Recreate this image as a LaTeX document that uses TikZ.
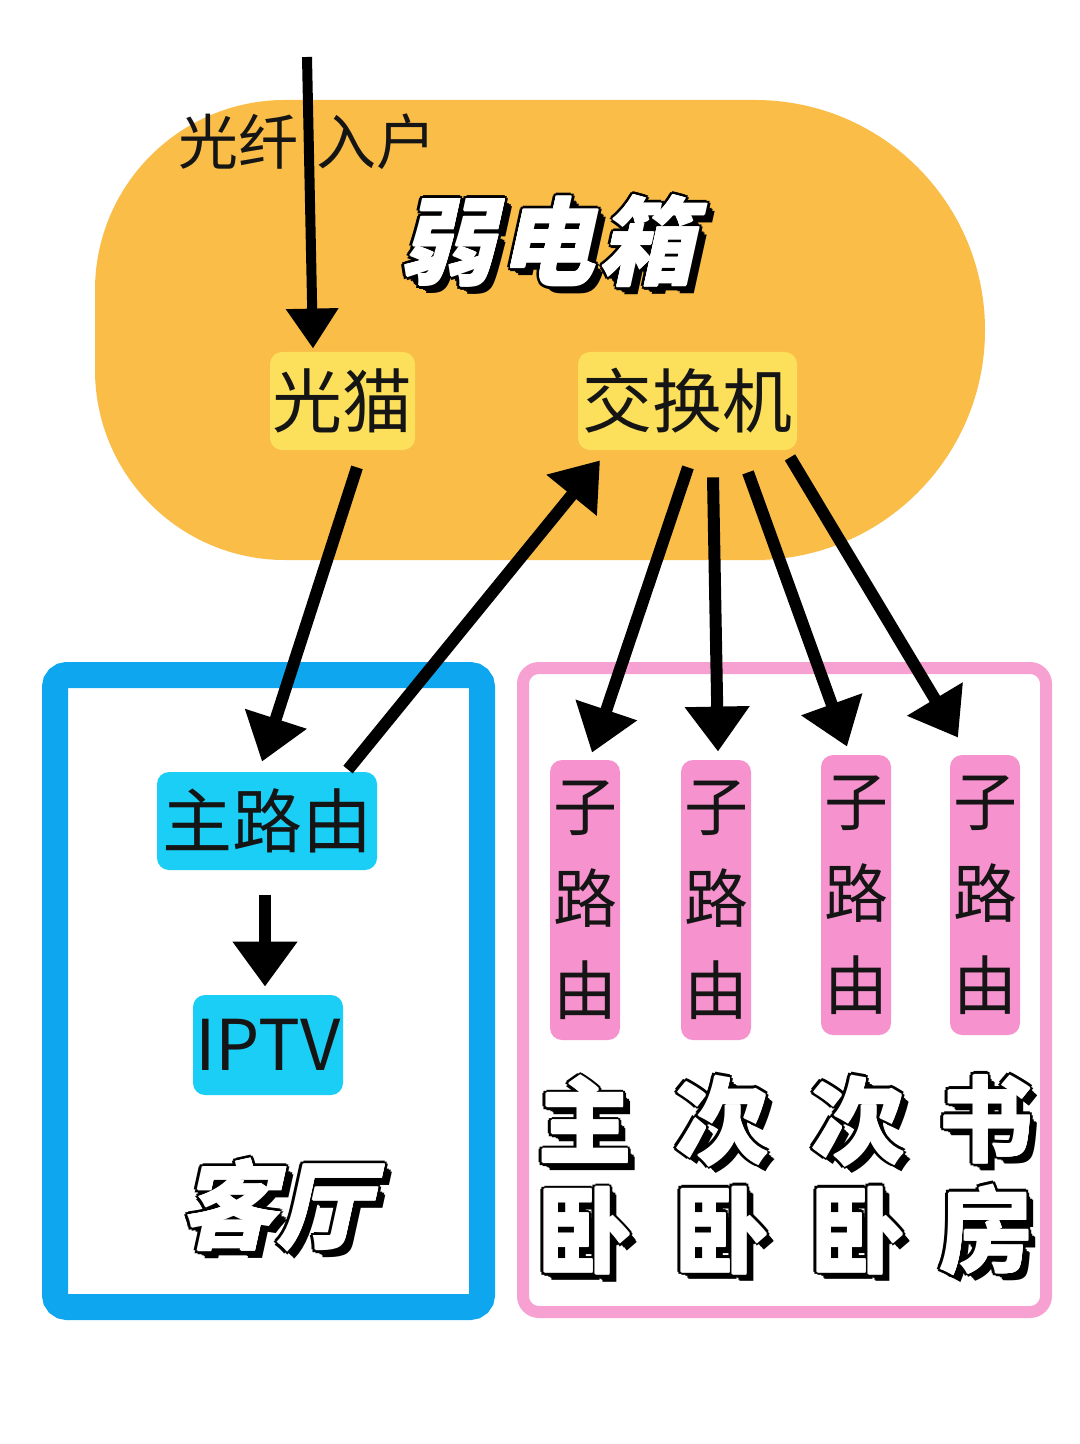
\documentclass[tikz,border=0pt]{standalone}
\usepackage{fontspec}
\usetikzlibrary{arrows.meta,calc}
\setmainfont{Noto Sans CJK SC}
\newfontfamily\heavyfont{Noto Sans CJK SC}
\newfontfamily\heavyslant[UprightFeatures={FakeSlant=0.22},BoldFeatures={FakeSlant=0.22}]{Noto Sans CJK SC}
\definecolor{boxorange}{HTML}{F9BD48}
\definecolor{nodeyellow}{HTML}{FCE05B}
\definecolor{framblue}{HTML}{0EA6EF}
\definecolor{nodecyan}{HTML}{1BCEF6}
\definecolor{frampink}{HTML}{F7A0D2}
\definecolor{nodepink}{HTML}{F693CE}
\definecolor{ink}{HTML}{151515}
\newbox\olbox
\newcommand\olofs[2]{\rlap{\kern#1\raise#2\copy\olbox}}
\newcommand\olt[1]{\setbox\olbox\hbox{#1}%
  {\color{black}\olofs{3pt}{-3pt}\olofs{2.3pt}{-2.3pt}\olofs{3.7pt}{-3.7pt}%
   \olofs{1.8pt}{0pt}\olofs{-1.8pt}{0pt}\olofs{0pt}{1.8pt}\olofs{0pt}{-1.8pt}%
   \olofs{1.27pt}{1.27pt}\olofs{-1.27pt}{1.27pt}\olofs{1.27pt}{-1.27pt}\olofs{-1.27pt}{-1.27pt}}%
  {\color{white}\olofs{0.35pt}{0pt}\olofs{-0.35pt}{0pt}\olofs{0pt}{0.35pt}\olofs{0pt}{-0.35pt}\copy\olbox}}
\begin{document}
\begin{tikzpicture}[x=0.5pt,y=-0.5pt]
\tikzset{
  arr/.style={draw=black, line width=6pt, -{Triangle[length=22.5pt,width=31pt]}},
  toparr/.style={draw=black, line width=5pt, -{Triangle[length=20pt,width=25pt]}},
  lbl/.style={inner sep=0pt, rounded corners=6pt, text=ink, font=\fontsize{35}{40}\selectfont},
  subbox/.style={inner sep=0pt, rounded corners=6pt, fill=nodepink, text=ink, align=center,
    minimum width=35pt, minimum height=140pt, font=\fontsize{32}{46}\selectfont},
  room/.style={inner sep=0pt, align=center, font=\heavyfont\bfseries\fontsize{47}{55}\selectfont},
  titletxt/.style={inner sep=0pt, font=\heavyslant\bfseries\fontsize{48}{55}\selectfont},
}
\useasboundingbox (0,0) rectangle (1080,1444);
\fill[white] (0,0) rectangle (1080,1444);
% weak-current box
\fill[boxorange] (540,100) [rounded corners=115pt] -- (985,100) -- (985,560) -- (540,560)
  [rounded corners=95pt] -- (95,560) -- (95,100) -- cycle;
% room frames
\draw[framblue, line width=13pt, rounded corners=6pt] (55,675) rectangle (482,1307);
\draw[frampink, line width=6pt, rounded corners=8pt] (523,668) rectangle (1046,1312);
% texts
\node[text=ink, inner sep=0pt, font=\fontsize{30}{36}\selectfont] (fibertxt) at (307,142) {光纤\hspace{9pt}入户};
\node[titletxt] (title) at (547,243) {\olt{弱\kern2pt 电\kern2pt 箱}};
\node[lbl, fill=nodeyellow, minimum width=72.5pt, minimum height=49pt] (gm) at (342.5,401) {光猫};
\node[lbl, fill=nodeyellow, minimum width=109.5pt, minimum height=49pt] (jhj) at (687.5,401) {交换机};
\node[lbl, fill=nodecyan, minimum width=110pt, minimum height=49pt] (zr) at (267,821) {主路由};
\node[lbl, fill=nodecyan, minimum width=75pt, minimum height=50pt] (iptv) at (268,1045) {IPTV};
\node[titletxt] (living) at (276,1207) {\olt{客厅}};
\node[subbox] (s1) at (585,900) {子\\路\\由};
\node[subbox] (s2) at (716,900) {子\\路\\由};
\node[subbox] (s3) at (856,895) {子\\路\\由};
\node[subbox] (s4) at (985,895) {子\\路\\由};
\node[room] (r1) at (585,1177) {\olt{主}\\\olt{卧}};
\node[room] (r2) at (722,1177) {\olt{次}\\\olt{卧}};
\node[room] (r3) at (858,1177) {\olt{次}\\\olt{卧}};
\node[room] (r4) at (986,1177) {\olt{书}\\\olt{房}};
% connectors
\coordinate (fiber) at (307,57);
\draw[toparr] (fiber) -- ($(gm.north)+(-29.5,-3)$);
\draw[arr] ($(gm.south)+(14.5,17)$) -- ($(zr.north)+(-5,-10)$);
\draw[arr] ($(zr.north)+(81,-2)$) -- ($(jhj.south)+(-87.5,10)$);
\draw[arr] ($(zr.south)+(-2,25)$) -- ($(iptv.north)+(-3,-8)$);
\draw[arr] ($(jhj.south)+(0.5,17)$) -- ($(s1.north)+(7,-7)$);
\draw[arr] ($(jhj.south)+(25.5,27)$) -- ($(s2.north)+(2,-8)$);
\draw[arr] ($(jhj.south)+(60.5,22)$) -- ($(s3.north)+(-9,-8)$);
\draw[arr] ($(jhj.south)+(102.5,7)$) -- ($(s4.north)+(-27,-17)$);
\end{tikzpicture}
\end{document}
